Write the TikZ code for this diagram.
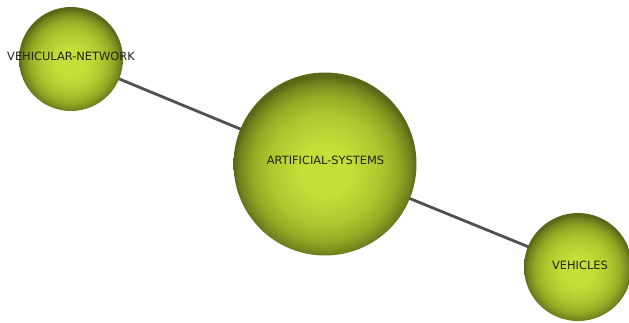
\documentclass[tikz,border=0pt]{standalone}
\usepackage{fontspec}
\setsansfont{DejaVu Sans}
\usepackage{tikz}
\usetikzlibrary{positioning,backgrounds}
\definecolor{ballHi}{HTML}{C6DE38}
\definecolor{ballMid}{HTML}{AFC72E}
\definecolor{ballLo}{HTML}{93AA25}
\definecolor{ballDark}{HTML}{71831D}
\definecolor{ballRim}{HTML}{5A6818}
\definecolor{edgeGrey}{HTML}{505050}
\definecolor{labelInk}{HTML}{1E2410}
\pgfdeclareradialshading{ballshade}{\pgfpoint{0bp}{-2bp}}{%
  color(0bp)=(ballHi); color(7bp)=(ballHi); color(15bp)=(ballMid);
  color(20bp)=(ballLo); color(23.5bp)=(ballDark); color(25bp)=(ballRim);
  color(50bp)=(ballRim)}
\tikzset{
  ball/.style={circle,shading=ballshade,inner sep=0pt,minimum size=#1},
  tag/.style={font=\sffamily\fontsize{11.4}{13}\selectfont,text=labelInk},
  link/.style={draw=edgeGrey,line width=2.8pt}}

\begin{document}
\begin{tikzpicture}[x=1pt,y=-1pt]
  \clip (0,0) rectangle (629,322);
  \node[ball=104pt] (vnet) at (71,59) {};
  \node[ball=183pt] (asys) at (325,164) {};
  \node[ball=108pt] (veh) at (578,267) {};
  \begin{pgfonlayer}{background}
    \draw[link] (vnet.center) -- (asys.center);
    \draw[link] (asys.center) -- (veh.center);
  \end{pgfonlayer}
  \node[tag] (vnetlbl) at (vnet.center) [yshift=3pt] {VEHICULAR-NETWORK};
  \node[tag] (asyslbl) at (asys.center) [yshift=4pt,xshift=0.5pt] {ARTIFICIAL-SYSTEMS};
  \node[tag] (vehlbl) at (veh.center) [yshift=2pt,xshift=2pt] {VEHICLES};
\end{tikzpicture}
\end{document}
